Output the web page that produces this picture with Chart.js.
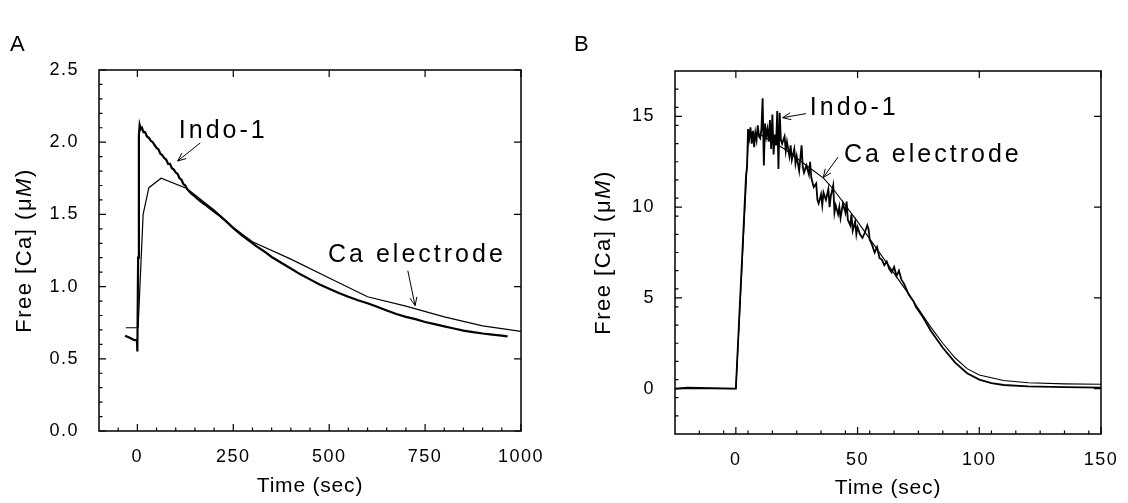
<!DOCTYPE html>
<html>
<head>
<meta charset="utf-8">
<script src="https://cdn.jsdelivr.net/npm/chart.js@4.4.1/dist/chart.umd.min.js"></script>
<style>
  html, body { margin: 0; padding: 0; background: #fff; }
  #wrap { position: relative; width: 1128px; height: 503px; }
  .panel { position: absolute; top: 0; width: 564px; height: 503px; }
</style>
</head>
<body>
<div id="wrap">
  <div class="panel" style="left:0"><canvas id="chartA" width="564" height="503"></canvas></div>
  <div class="panel" style="left:564px"><canvas id="chartB" width="564" height="503"></canvas></div>
</div>
<script>
// ---- panel A : long run (sec, uM) ----
const indoA_t = [-32, -20, -8, -1, 0, 2, 4, 6, 9, 12, 16, 20, 25, 30, 35, 40, 45, 50, 55, 60,
  65, 70, 75, 80, 85, 90, 95, 100, 105, 110, 115, 120, 125, 130, 135, 140, 145, 150, 160, 170,
  180, 190, 200, 215, 230, 250, 270, 290, 310, 330, 350, 375, 400, 425, 450, 475, 500, 525, 550, 575,
  600, 625, 650, 675, 700, 725, 750, 775, 800, 825, 850, 875, 900, 925, 950, 965];
const indoA_ca = [0.66, 0.645, 0.63, 0.63, 0.55, 1.2, 2.05, 2.12, 2.09, 2.10, 2.07, 2.07, 2.04, 2.03, 2.01, 2.00, 1.98, 1.96, 1.95, 1.92,
  1.91, 1.89, 1.88, 1.85, 1.85, 1.82, 1.81, 1.79, 1.78, 1.75, 1.74, 1.71, 1.70, 1.675, 1.66, 1.645, 1.635, 1.625, 1.60, 1.58,
  1.56, 1.54, 1.52, 1.49, 1.455, 1.405, 1.36, 1.32, 1.28, 1.245, 1.205, 1.165, 1.125, 1.085, 1.05, 1.015, 0.985, 0.955, 0.93, 0.905,
  0.885, 0.86, 0.835, 0.81, 0.79, 0.775, 0.755, 0.74, 0.725, 0.71, 0.695, 0.685, 0.675, 0.668, 0.66, 0.655];
const electA_t = [-30, 0, 2, 15, 30, 62, 129, 200, 250, 300, 400, 500, 600, 700, 800, 900, 1000];
const electA_ca = [0.715, 0.715, 0.72, 1.5, 1.685, 1.75, 1.68, 1.53, 1.41, 1.31, 1.19, 1.06, 0.93, 0.865, 0.79, 0.728, 0.69];
const xTicksA = [0, 250, 500, 750, 1000];
const yTicksA = [0, 0.5, 1.0, 1.5, 2.0, 2.5];

// ---- panel B : short run (sec, uM) ----
const indoB_t = [-25, -20, 0, 4.2, 4.6, 5, 5.5, 6, 6.5, 7, 7.5, 8, 8.5, 9, 9.5, 10,
  10.5, 11, 11.5, 12, 12.5, 13, 13.5, 14, 14.5, 15, 15.5, 16, 16.5, 17, 17.5, 18,
  18.5, 19, 20, 20.5, 21, 22, 22.5, 23, 24, 24.5, 25, 26, 26.5, 27, 27.5, 28,
  29, 30, 30.5, 31, 32, 33, 33.5, 34, 35, 35.5, 36, 37, 38, 38.5, 39, 40,
  40.5, 41, 42, 42.5, 43, 44, 45, 45.5, 46, 47, 47.5, 48, 49, 49.5, 50, 51,
  52, 53, 54, 54.5, 55, 56, 57, 58, 59, 60, 61, 62, 63, 64, 65, 66,
  67, 68, 69, 70, 71, 72, 73, 74, 75, 77, 80, 85, 90, 95, 100, 105,
  110, 120, 135, 150];
const indoB_ca = [0, 0.05, 0, 11.8, 12.2, 14.3, 13.8, 14.4, 13.5, 14.2, 13.3, 14.1, 13.7, 14.5, 13.9, 13.8,
  14.3, 16.0, 12.3, 14.6, 13.9, 14.3, 13.6, 14.8, 13.2, 15.1, 12.9, 14.0, 13.4, 15.3, 12.1, 15.2,
  13.7, 13.5, 13.9, 13.1, 13.6, 12.8, 13.4, 12.6, 13.2, 12.4, 12.8, 12.0, 12.7, 13.4, 12.2, 11.9,
  12.3, 11.8, 12.5, 11.6, 11.1, 11.3, 10.4, 10.2, 10.7, 10.1, 10.8, 10.4, 11.0, 10.0, 10.6, 11.2,
  9.7, 10.1, 9.6, 10.0, 9.4, 10.2, 9.7, 10.3, 9.3, 9.0, 9.6, 8.7, 9.2, 8.5, 8.9, 8.5,
  8.3, 8.6, 9.0, 8.8, 8.2, 7.9, 7.5, 7.8, 7.2, 7.1, 6.8, 7.0, 6.6, 6.4, 6.7, 6.2,
  6.5, 6.0, 5.8, 5.5, 5.2, 5.0, 4.8, 4.5, 4.3, 3.9, 3.2, 2.25, 1.45, 0.85, 0.5, 0.3,
  0.2, 0.12, 0.08, 0.06];
const electB_t = [-25, 0, 5.2, 6, 10, 20, 30, 36, 40, 50, 60, 70, 75, 80, 85, 90, 95, 100, 110, 120, 135, 150];
const electB_ca = [0, 0, 13.9, 14.1, 14.0, 13.2, 12.2, 11.6, 11.0, 9.2, 7.3, 5.4, 4.4, 3.4, 2.5, 1.7, 1.1, 0.75, 0.45, 0.32, 0.26, 0.24];
const xTicksB = [0, 50, 100, 150];
const yTicksB = [0, 5, 10, 15];

const FONT = "'Liberation Sans', Arial, sans-serif";
Chart.defaults.font.family = FONT;
Chart.defaults.color = '#000';

function pts(t, v) {
  return t.map((x, i) => ({ x: x, y: v[i] }));
}

function arrow(ctx, x1, y1, x2, y2) {
  const ang = Math.atan2(y2 - y1, x2 - x1);
  const h = 9;
  ctx.beginPath();
  ctx.moveTo(x1, y1);
  ctx.lineTo(x2, y2);
  ctx.moveTo(x2 - h * Math.cos(ang - 0.4), y2 - h * Math.sin(ang - 0.4));
  ctx.lineTo(x2, y2);
  ctx.lineTo(x2 - h * Math.cos(ang + 0.4), y2 - h * Math.sin(ang + 0.4));
  ctx.stroke();
}

// y title with the italic M, drawn in pieces along a rotated baseline
function yTitle(ctx, cx, cy) {
  const parts = [['Free [Ca] (\u03bc', ''], ['M', 'italic '], [')', '']];
  ctx.save();
  ctx.translate(cx, cy);
  ctx.rotate(-Math.PI / 2);
  ctx.letterSpacing = '1.5px';
  ctx.textBaseline = 'middle';
  ctx.textAlign = 'left';
  let total = 0;
  parts.forEach(p => { ctx.font = p[1] + '22px ' + FONT; total += ctx.measureText(p[0]).width; });
  let x = -total / 2;
  parts.forEach(p => {
    ctx.font = p[1] + '22px ' + FONT;
    ctx.fillText(p[0], x, 0);
    x += ctx.measureText(p[0]).width;
  });
  ctx.restore();
}

// frame with inward ticks, titles, text notes with arrows and the panel letter
function makeFrame(cfg) {
  return {
    id: 'frame',
    beforeDraw(chart) {
      chart.ctx.letterSpacing = '1.5px';
    },
    afterDraw(chart) {
      const { ctx, chartArea: a, scales: { x, y } } = chart;
      ctx.save();
      ctx.strokeStyle = '#000';
      ctx.lineWidth = 1.5;
      ctx.strokeRect(a.left, a.top, a.right - a.left, a.bottom - a.top);

      ctx.lineWidth = 1.2;
      ctx.beginPath();
      cfg.xMajor.forEach(v => {
        const p = x.getPixelForValue(v);
        ctx.moveTo(p, a.bottom); ctx.lineTo(p, a.bottom - 7);
        ctx.moveTo(p, a.top); ctx.lineTo(p, a.top + 7);
      });
      for (let v = x.min + cfg.xMinor; v < x.max; v += cfg.xMinor) {
        if (cfg.xMajor.some(m => Math.abs(m - v) < 1e-6)) continue;
        const p = x.getPixelForValue(v);
        ctx.moveTo(p, a.bottom); ctx.lineTo(p, a.bottom - 3.5);
      }
      cfg.yMajor.forEach(v => {
        const p = y.getPixelForValue(v);
        ctx.moveTo(a.left, p); ctx.lineTo(a.left + 7, p);
        ctx.moveTo(a.right, p); ctx.lineTo(a.right - 7, p);
      });
      const n = Math.round((y.max - y.min) / cfg.yMinor);
      for (let i = 1; i < n; i++) {
        const v = y.min + i * cfg.yMinor;
        if (cfg.yMajor.some(m => Math.abs(m - v) < 1e-6)) continue;
        const p = y.getPixelForValue(v);
        ctx.moveTo(a.left, p); ctx.lineTo(a.left + 3.5, p);
      }
      ctx.stroke();

      ctx.fillStyle = '#000';
      // axis titles
      ctx.font = '21px ' + FONT;
      ctx.letterSpacing = '0.8px';
      ctx.textAlign = 'center';
      ctx.textBaseline = 'middle';
      ctx.fillText('Time (sec)', (a.left + a.right) / 2, cfg.xTitleY);
      yTitle(ctx, cfg.yTitleX, (a.top + a.bottom) / 2);

      // notes
      ctx.lineWidth = 1;
      ctx.font = '25px ' + FONT;
      ctx.letterSpacing = '3px';
      ctx.textAlign = 'left';
      cfg.notes.forEach(nt => {
        ctx.fillText(nt.text, x.getPixelForValue(nt.x), y.getPixelForValue(nt.y));
        arrow(ctx, x.getPixelForValue(nt.from[0]), y.getPixelForValue(nt.from[1]),
          x.getPixelForValue(nt.to[0]), y.getPixelForValue(nt.to[1]));
      });

      ctx.letterSpacing = '0px';
      ctx.textBaseline = 'alphabetic';
      ctx.font = '22px ' + FONT;
      ctx.fillText(cfg.letter, cfg.letterX, 51);
      ctx.restore();
    }
  };
}

function makeChart(id, sets, xr, yr, xt, yt, yFmt, pad, yWidth, xHeight, frame) {
  return new Chart(document.getElementById(id), {
    type: 'line',
    data: {
      datasets: sets.map(s => ({
        data: s.data,
        borderColor: '#000',
        borderWidth: s.w,
        pointRadius: 0,
        tension: 0,
        fill: false
      }))
    },
    options: {
      responsive: false,
      animation: false,
      devicePixelRatio: 1,
      layout: { padding: pad },
      plugins: { legend: { display: false }, tooltip: { enabled: false } },
      scales: {
        x: {
          type: 'linear', min: xr[0], max: xr[1],
          afterBuildTicks: s => { s.ticks = xt.map(v => ({ value: v })); },
          afterFit: s => { s.height = xHeight; },
          grid: { display: false },
          border: { display: false },
          ticks: { font: { size: 18 }, padding: 7, maxRotation: 0, autoSkip: false, callback: v => String(v) },
          title: { display: false }
        },
        y: {
          type: 'linear', min: yr[0], max: yr[1],
          afterBuildTicks: s => { s.ticks = yt.map(v => ({ value: v })); },
          afterFit: s => { s.width = yWidth; },
          grid: { display: false },
          border: { display: false },
          ticks: { font: { size: 18 }, padding: 12, autoSkip: false, callback: yFmt },
          title: { display: false }
        }
      }
    },
    plugins: [makeFrame(frame)]
  });
}

makeChart('chartA',
  [{ data: pts(indoA_t, indoA_ca), w: 2.2 }, { data: pts(electA_t, electA_ca), w: 1.2 }],
  [-100, 1000], [0, 2.5], xTicksA, yTicksA, v => Number(v).toFixed(1),
  { left: 8, right: 43, top: 70, bottom: 0 }, 91, 72,
  {
    letter: 'A', letterX: 10, yTitleX: 25, xTitleY: 486,
    xMajor: xTicksA, xMinor: 50, yMajor: yTicksA, yMinor: 0.1,
    notes: [
      { text: 'Indo-1', x: 108, y: 2.08, from: [164, 1.995], to: [105, 1.87] },
      { text: 'Ca electrode', x: 497, y: 1.215, from: [705, 1.11], to: [724, 0.868] }
    ]
  });

makeChart('chartB',
  [{ data: pts(indoB_t, indoB_ca), w: 1.8 }, { data: pts(electB_t, electB_ca), w: 1.1 }],
  [-25, 150], [-2.5, 17.5], xTicksB, yTicksB, v => String(v),
  { left: 23, right: 27, top: 71, bottom: 0 }, 88, 69,
  {
    letter: 'B', letterX: 10, yTitleX: 40, xTitleY: 488,
    xMajor: xTicksB, xMinor: 10, yMajor: yTicksB, yMinor: 1,
    notes: [
      { text: 'Indo-1', x: 30.4, y: 15.45, from: [28.8, 15.15], to: [19.2, 14.93] },
      { text: 'Ca electrode', x: 44.4, y: 12.86, from: [42.0, 12.76], to: [35.9, 11.63] }
    ]
  });
</script>
</body>
</html>
